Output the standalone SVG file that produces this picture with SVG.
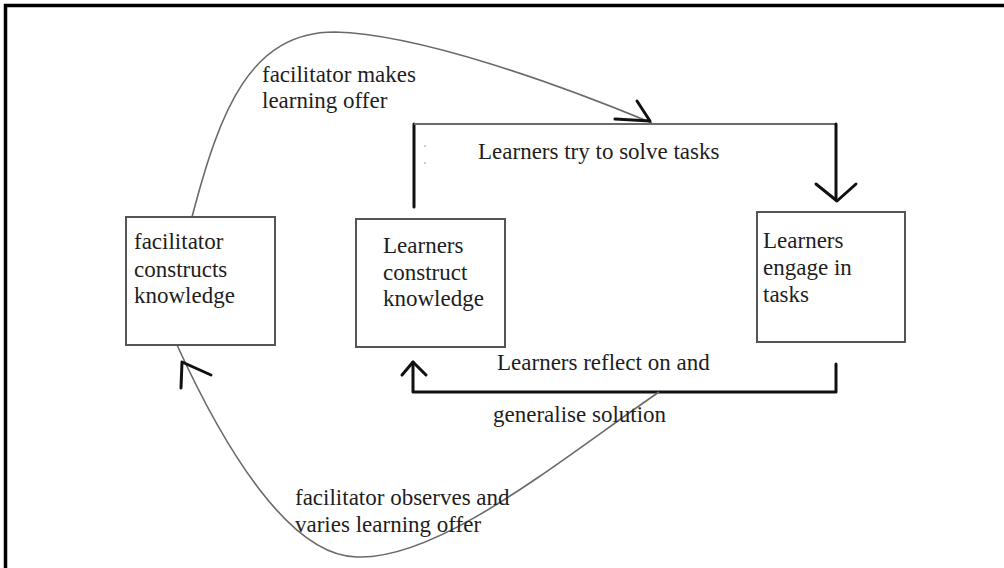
<svg xmlns="http://www.w3.org/2000/svg" width="1004" height="568" viewBox="0 0 1004 568">
<style>
text{font-family:"Liberation Serif","Times New Roman",serif;font-size:23px;fill:#1e1e1e}
.box{fill:#fff;stroke:#555;stroke-width:2}
.thin{fill:none;stroke:#6a6a6a;stroke-width:1.6}
.thick{fill:none;stroke:#111;stroke-width:3;stroke-linecap:round;stroke-linejoin:round}
</style>
<rect width="1004" height="568" fill="#fff"/>
<path d="M5.5,568 V5.5 H1004" fill="none" stroke="#000" stroke-width="3.5"/>
<g id="connectors">
  <!-- top curve: facilitator makes learning offer -->
  <path class="thin" d="M192,217 C220,110 250,32 335,32 C420,34 560,85 652,123"/>
  <path class="thick" d="M637,101 L650,121 L615,119"/>
  <!-- learners try to solve tasks -->
  <path class="thick" d="M414,207 V124"/>
  <path class="thin" d="M414,124 H836" style="stroke-width:2.2"/>
  <path class="thick" d="M836,124 V200"/>
  <path class="thick" d="M816,184 L837,201 L856,184"/>
  <!-- learners reflect -->
  <path class="thick" d="M836,364 V392 H413 V362"/>
  <path class="thick" d="M402,375 L413,362 L426,375"/>
  <!-- bottom curve: facilitator observes -->
  <path class="thin" d="M659,392 C560,460 440,560 357,557 C290,556 225,450 177,345"/>
  <path class="thick" d="M181,388 L182,362 L211,375"/>
  <circle cx="425" cy="146" r="0.8" fill="#888"/>
  <circle cx="425" cy="163" r="0.8" fill="#888"/>
</g>
<g id="node-facilitator">
  <rect class="box" x="126" y="217" width="149" height="128"/>
  <text x="134" y="249">facilitator</text>
  <text x="134" y="277">constructs</text>
  <text x="134" y="303">knowledge</text>
</g>
<g id="node-learners-construct">
  <rect class="box" x="356" y="219" width="149" height="128"/>
  <text x="383" y="253">Learners</text>
  <text x="383" y="280">construct</text>
  <text x="383" y="306">knowledge</text>
</g>
<g id="node-learners-engage">
  <rect class="box" x="757" y="212" width="148" height="130"/>
  <text x="763" y="248">Learners</text>
  <text x="763" y="275">engage in</text>
  <text x="763" y="302">tasks</text>
</g>
<g id="labels">
  <text x="262" y="82">facilitator makes</text>
  <text x="262" y="108">learning offer</text>
  <text x="478" y="159">Learners try to solve tasks</text>
  <text x="497" y="370">Learners reflect on and</text>
  <text x="493" y="422">generalise solution</text>
  <text x="295" y="505">facilitator observes and</text>
  <text x="295" y="532">varies learning offer</text>
</g>
</svg>
